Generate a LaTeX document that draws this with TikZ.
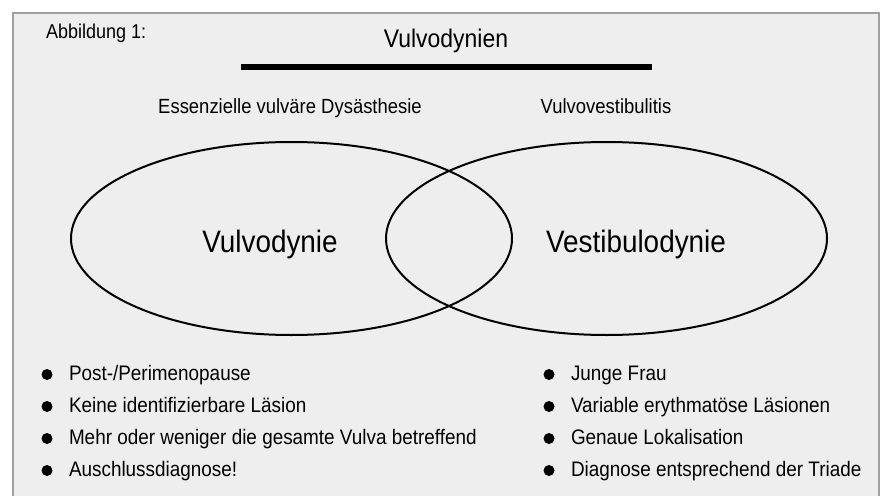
\documentclass[tikz,border=0pt]{standalone}
\usepackage{fontspec}
\setmainfont{Liberation Sans}[FakeStretch=0.9]
\usetikzlibrary{positioning}

\begin{document}
\begin{tikzpicture}[x=1pt,y=-1pt,line width=2pt,
  every node/.style={inner sep=0pt,anchor=base},
  item/.style={anchor=base west,font=\fontsize{21}{24}\selectfont},
  dot/.style={circle,fill=black,minimum size=11pt,inner sep=0pt}]
  \useasboundingbox (0,0) rectangle (885,495);
  \fill[white] (0,0) rectangle (885,495);
  \draw[fill={rgb,255:red,238;green,238;blue,238},draw={rgb,255:red,160;green,160;blue,160},line width=2.5pt]
    (13,500) -- (13,13) -- (879,13) -- (879,500);
  \node[anchor=base west,font=\fontsize{20}{22}\selectfont] (fig) at (45,39) {Abbildung 1:};
  \node[font=\fontsize{25.5}{28}\selectfont] (title) at (446,48) {Vulvodynien};
  \draw[line width=6pt] (241,67) -- (652,67);
  \node[font=\fontsize{20.5}{24}\selectfont] (dys) at (290,113) {Essenzielle vulväre Dysästhesie};
  \node[font=\fontsize{20.5}{24}\selectfont] (vvs) at (606,113) {Vulvovestibulitis};
  % the two overlapping sets
  \draw (291.5,238.5) ellipse [x radius=220.5, y radius=96.5];
  \draw (606.5,238.5) ellipse [x radius=220.5, y radius=96.5];
  \node[font=\fontsize{31}{34}\selectfont] (vd) at (270,252) {Vulvodynie};
  \node[font=\fontsize{31}{34}\selectfont] (vbd) at (636,252) {Vestibulodynie};
  % left list
  \foreach \t [count=\i] in {Post-/Perimenopause,Keine identifizierbare Läsion,
      Mehr oder weniger die gesamte Vulva betreffend,Auschlussdiagnose!}{
    \node[item] (l\i) at (68,{380+32*(\i-1)}) {\t};
    \node[dot,left=14.5pt of l\i.base west,yshift=5.5pt] (ld\i) {};
  }
  % right list
  \foreach \t [count=\i] in {Junge Frau,Variable erythmatöse Läsionen,
      Genaue Lokalisation,Diagnose entsprechend der Triade}{
    \node[item] (r\i) at (570,{380+32*(\i-1)}) {\t};
    \node[dot,left=14.5pt of r\i.base west,yshift=5.5pt] (rd\i) {};
  }
\end{tikzpicture}
\end{document}
